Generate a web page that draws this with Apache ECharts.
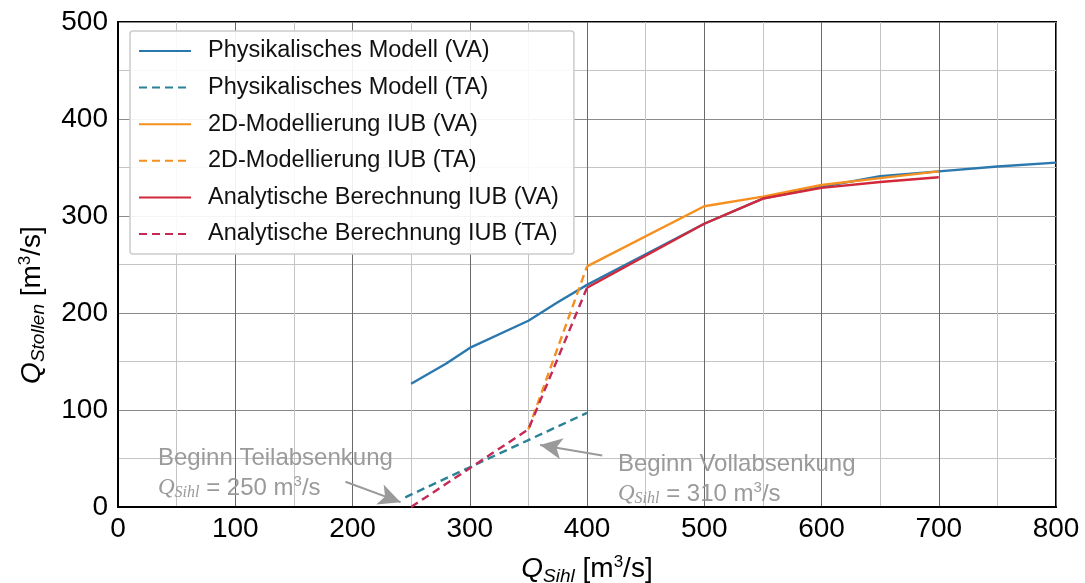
<!DOCTYPE html>
<html><head><meta charset="utf-8">
<script src="https://cdn.jsdelivr.net/npm/echarts@6/dist/echarts.min.js"></script>
<style>html,body{margin:0;padding:0;background:#fff}#c{width:1085px;height:583px}</style>
</head><body><div id="c"></div>
<script>
// Data (m3/s)
const xTicks = [0, 100, 200, 300, 400, 500, 600, 700, 800];
const yTicks = [0, 100, 200, 300, 400, 500];
const physVA_x = [250, 280, 300, 350, 375, 400, 500, 550, 600, 650, 700, 750, 800];
const physVA_y = [127, 148, 164, 192, 211, 229, 292, 318, 330, 341, 346, 351, 355];
const physTA_x = [245, 300, 350, 400];
const physTA_y = [10, 41, 69, 97];
const modVA_x = [400, 500, 550, 600, 650, 700];
const modVA_y = [248, 310, 320, 332, 339, 346];
const modTA_x = [350, 400];
const modTA_y = [80, 248];
const anaVA_x = [400, 500, 550, 600, 650, 700];
const anaVA_y = [226, 292, 318, 329, 335, 340];
const anaTA_x = [250, 300, 350, 400];
const anaTA_y = [0, 40, 80, 226];
const names = [
  'Physikalisches Modell (VA)', 'Physikalisches Modell (TA)',
  '2D-Modellierung IUB (VA)', '2D-Modellierung IUB (TA)',
  'Analytische Berechnung IUB (VA)', 'Analytische Berechnung IUB (TA)'
];
// annotation arrows in data units
const arrow1 = [[194, 26], [241, 5]];
const arrow2 = [[413, 53], [360, 64]];

const zip = (xs, ys) => xs.map((x, i) => [x, ys[i]]);
const FONT = 'Liberation Sans, Arial, Helvetica, sans-serif';
const SERIF = 'Liberation Serif, Times New Roman, serif';
const BLUE = '#2a78ae', TEAL = '#2a8296', ORANGE = '#f5901f', RED = '#d2283a', CRIMSON = '#c42a55';

function line(name, data, color, dashed, z, extra) {
  return Object.assign({
    name, type: 'line', data, showSymbol: false, symbol: 'none', z,
    lineStyle: { color, width: 2.4, type: dashed ? [8, 5] : 'solid' },
    itemStyle: { color }
  }, extra || {});
}

const chart = echarts.init(document.getElementById('c'));
const arrowML = (pts) => ({
  silent: true, symbol: ['none', 'arrow'], symbolSize: [16, 22],
  label: { show: false },
  lineStyle: { color: '#9a9a9a', width: 2, type: 'solid' },
  data: [[{ coord: pts[0] }, { coord: pts[1] }]]
});

const subRich = {
  q: { fontFamily: FONT, fontSize: 28, fontStyle: 'italic', color: '#000' },
  sub: { fontFamily: FONT, fontSize: 19, fontStyle: 'italic', color: '#000', padding: [14, 0, 0, 0] },
  t: { fontFamily: FONT, fontSize: 28, color: '#000' },
  sup: { fontFamily: FONT, fontSize: 17, color: '#000', padding: [0, 0, 14, 0] }
};
const annRich = {
  a: { fontFamily: FONT, fontSize: 24, fill: '#9a9a9a', lineHeight: 30 },
  q: { fontFamily: SERIF, fontStyle: 'italic', fontSize: 23, fill: '#9a9a9a', lineHeight: 30 },
  s: { fontFamily: SERIF, fontStyle: 'italic', fontSize: 16, fill: '#9a9a9a', padding: [10, 0, 0, 0] },
  p: { fontFamily: FONT, fontSize: 15, fill: '#9a9a9a', padding: [0, 0, 12, 0] }
};

chart.setOption({
  animation: false,
  backgroundColor: '#fff',
  grid: { left: 118, right: 29, top: 22, bottom: 76, show: true, borderColor: '#000', borderWidth: 2, outerBoundsMode: 'none' },
  legend: {
    orient: 'vertical', left: 130, top: 31, data: names,
    itemWidth: 52, itemHeight: 14, itemGap: 12.6,
    padding: [8, 15, 8, 8],
    itemStyle: { opacity: 0 },
    backgroundColor: 'rgba(255,255,255,0.9)', borderColor: '#cccccc', borderWidth: 1.5, borderRadius: 3,
    textStyle: { fontFamily: FONT, fontSize: 23.5, color: '#111', padding: [0, 0, 0, 12] }
  },
  xAxis: {
    type: 'value', min: xTicks[0], max: xTicks[xTicks.length - 1], interval: 100,
    axisLine: { show: true, onZero: false, lineStyle: { color: '#000', width: 2 } },
    axisTick: { show: false },
    axisLabel: { fontFamily: FONT, fontSize: 28, color: '#000', margin: 8 },
    splitLine: { show: true, lineStyle: { color: '#6a6a6a', width: 1 } },
    minorTick: { show: false, splitNumber: 2 },
    minorSplitLine: { show: true, lineStyle: { color: '#c4c4c4', width: 1 } },
    name: '{q|Q}{sub|Sihl}{t| [m}{sup|3}{t|/s]}',
    nameLocation: 'middle', nameGap: 46,
    nameTextStyle: { rich: subRich }
  },
  yAxis: {
    type: 'value', min: yTicks[0], max: yTicks[yTicks.length - 1], interval: 100,
    axisLine: { show: true, lineStyle: { color: '#000', width: 2 } },
    axisTick: { show: false },
    axisLabel: { fontFamily: FONT, fontSize: 28, color: '#000', margin: 10 },
    splitLine: { show: true, lineStyle: { color: '#8a8a8a', width: 1 } },
    minorTick: { show: false, splitNumber: 2 },
    minorSplitLine: { show: true, lineStyle: { color: '#c4c4c4', width: 1 } }
  },
  series: [
    line(names[0], zip(physVA_x, physVA_y), BLUE, false, 2),
    line(names[1], zip(physTA_x, physTA_y), TEAL, true, 2, { markLine: arrowML(arrow1) }),
    line(names[2], zip(modVA_x, modVA_y), ORANGE, false, 3),
    line(names[3], zip(modTA_x, modTA_y), ORANGE, true, 3, { markLine: arrowML(arrow2) }),
    line(names[4], zip(anaVA_x, anaVA_y), RED, false, 4),
    line(names[5], zip(anaTA_x, anaTA_y), CRIMSON, true, 4)
  ],
  graphic: [
    {
      type: 'text', x: 32, y: 305, rotation: Math.PI / 2, z: 10, silent: true,
      style: {
        text: '{q|Q}{sub|Stollen}{t| [m}{sup|3}{t|/s]}',
        align: 'center', verticalAlign: 'middle',
        rich: {
          q: { fontFamily: FONT, fontSize: 28, fontStyle: 'italic', fill: '#000' },
          sub: { fontFamily: FONT, fontSize: 19, fontStyle: 'italic', fill: '#000', padding: [14, 0, 0, 0] },
          t: { fontFamily: FONT, fontSize: 28, fill: '#000' },
          sup: { fontFamily: FONT, fontSize: 17, fill: '#000', padding: [0, 0, 14, 0] }
        }
      }
    },
    {
      type: 'text', left: 158, top: 446, z: 10, silent: true,
      style: { text: '{a|Beginn Teilabsenkung}\n{q|Q}{s|Sihl}{a| = 250 m}{p|3}{a|/s}', rich: annRich }
    },
    {
      type: 'text', left: 618, top: 452, z: 10, silent: true,
      style: { text: '{a|Beginn Vollabsenkung}\n{q|Q}{s|Sihl}{a| = 310 m}{p|3}{a|/s}', rich: annRich }
    }
  ]
});
</script></body></html>
